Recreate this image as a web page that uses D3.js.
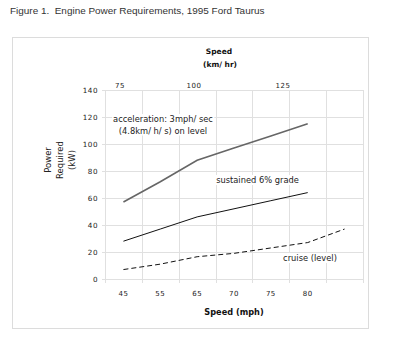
<!DOCTYPE html>
<html>
<head>
<meta charset="utf-8">
<script src="https://cdn.jsdelivr.net/npm/d3@7/dist/d3.min.js"></script>
<style>
  html, body { margin: 0; padding: 0; background: #fff; }
  svg { display: block; }
</style>
</head>
<body>
<svg id="chart" width="400" height="341"></svg>
<script>
// ---- data ----
const categories = [45, 55, 65, 70, 75, 80, 85];
const xTickLabels = ["45", "55", "65", "70", "75", "80", ""];
const acceleration = [57, 72, 88, 97, 106, 115];
const sustained = [28, 37, 46, 52, 58, 64];
const cruise = [7, 11, 16.5, 19, 23, 27, 37];
const yTicks = [0, 20, 40, 60, 80, 100, 120, 140];
const kmhTicks = [75, 100, 125];
const title = "Figure 1.  Engine Power Requirements, 1995 Ford Taurus";

// ---- layout ----
const svg = d3.select("#chart");
const pLeft = 105, pRight = 363, pTop = 90, pBottom = 279;
const font = "DejaVu Sans, Verdana, sans-serif";
const gridColor = "#e0e0e0";

const x = d3.scaleBand().domain(categories).range([pLeft, pRight]).padding(0);
const y = d3.scaleLinear().domain([0, 140]).range([pBottom, pTop]);
const xTop = d3.scaleLinear().domain([75, 100, 125]).range([120, 194, 283]);

// caption
svg.append("text").attr("x", 10).attr("y", 14)
  .attr("font-family", "Liberation Sans, Arial, sans-serif")
  .style("white-space", "pre").attr("xml:space", "preserve")
  .attr("font-size", 9.95).attr("fill", "#333").text(title);

// border box
svg.append("rect").attr("x", 12.5).attr("y", 37.5).attr("width", 356).attr("height", 291)
  .attr("fill", "none").attr("stroke", "#dcdcdc");

// horizontal gridlines
svg.append("g").selectAll("line").data(yTicks).join("line")
  .attr("x1", pLeft - 3).attr("x2", pRight)
  .attr("y1", d => Math.round(y(d)) + 0.5).attr("y2", d => Math.round(y(d)) + 0.5)
  .attr("stroke", gridColor);

// vertical gridlines (category boundaries)
const bounds = categories.map(c => x(c)).concat([x(categories[categories.length - 1]) + x.bandwidth()]);
svg.append("g").selectAll("line").data(bounds).join("line")
  .attr("x1", d => Math.round(d) + 0.5).attr("x2", d => Math.round(d) + 0.5)
  .attr("y1", pTop).attr("y2", pBottom + 4)
  .attr("stroke", gridColor);

// y tick labels
svg.append("g").selectAll("text").data(yTicks).join("text")
  .attr("x", 98).attr("y", d => y(d)).attr("dy", "0.35em")
  .attr("text-anchor", "end").attr("font-family", font).attr("font-size", 7.2)
  .attr("letter-spacing", 0.5).attr("fill", "#222").text(d => d);

// x tick labels
svg.append("g").selectAll("text").data(categories).join("text")
  .attr("x", d => x(d) + x.bandwidth() / 2).attr("y", 296)
  .attr("text-anchor", "middle").attr("font-family", font).attr("font-size", 7)
  .attr("letter-spacing", 0.5).attr("fill", "#222").text((d, i) => xTickLabels[i]);

// top (km/h) tick labels
svg.append("g").selectAll("text").data(kmhTicks).join("text")
  .attr("x", d => xTop(d)).attr("y", 88)
  .attr("text-anchor", "middle").attr("font-family", font).attr("font-size", 7)
  .attr("letter-spacing", 0.5).attr("fill", "#222").text(d => d);

// axis titles
const boldFont = "Tahoma, DejaVu Sans, sans-serif";
svg.append("text").attr("x", 219).attr("y", 54).attr("text-anchor", "middle")
  .attr("font-family", boldFont).attr("font-weight", "bold").attr("font-size", 7.5)
  .attr("fill", "#111").text("Speed");
svg.append("text").attr("x", 220).attr("y", 67).attr("text-anchor", "middle")
  .attr("font-family", boldFont).attr("font-weight", "bold").attr("font-size", 7.5)
  .attr("fill", "#111").text("(km/ hr)");
svg.append("text").attr("x", 234).attr("y", 315).attr("text-anchor", "middle")
  .attr("font-family", boldFont).attr("font-weight", "bold").attr("font-size", 8.2)
  .attr("fill", "#111").text("Speed (mph)");

const yTitle = svg.append("g").attr("transform", "translate(60,160) rotate(-90)");
["Power", "Required", "(kW)"].forEach((t, i) => {
  yTitle.append("text").attr("x", 0).attr("y", (i - 1) * 11.8).attr("dy", "0.35em")
    .attr("text-anchor", "middle").attr("font-family", font).attr("font-size", 8.5)
    .attr("fill", "#222").text(t);
});

// lines
const line = d3.line().x((d, i) => x(categories[i]) + x.bandwidth() / 2).y(d => y(d));
svg.append("path").datum(acceleration).attr("d", line)
  .attr("fill", "none").attr("stroke", "#666").attr("stroke-width", 1.6);
svg.append("path").datum(sustained).attr("d", line)
  .attr("fill", "none").attr("stroke", "#111").attr("stroke-width", 1);
svg.append("path").datum(cruise).attr("d", line)
  .attr("fill", "none").attr("stroke", "#111").attr("stroke-width", 1)
  .attr("stroke-dasharray", "5,3");

// annotations with white background
function label(lines, cx, y0, lh) {
  const g = svg.append("g");
  const bg = g.append("rect").attr("fill", "#fff");
  lines.forEach((t, i) => {
    g.append("text").attr("x", cx).attr("y", y0 + i * lh).attr("text-anchor", "middle")
      .attr("font-family", font).attr("font-size", 8.3).attr("fill", "#222").text(t);
  });
  const bb = g.node().getBBox();
  bg.attr("x", bb.x - 1).attr("y", bb.y).attr("width", bb.width + 2).attr("height", bb.height);
}
label(["acceleration: 3mph/ sec", "(4.8km/ h/ s) on level"], 163, 122, 11.5);
label(["sustained 6% grade"], 257.5, 183, 11);
label(["cruise (level)"], 310, 261, 11);
</script>
</body>
</html>
